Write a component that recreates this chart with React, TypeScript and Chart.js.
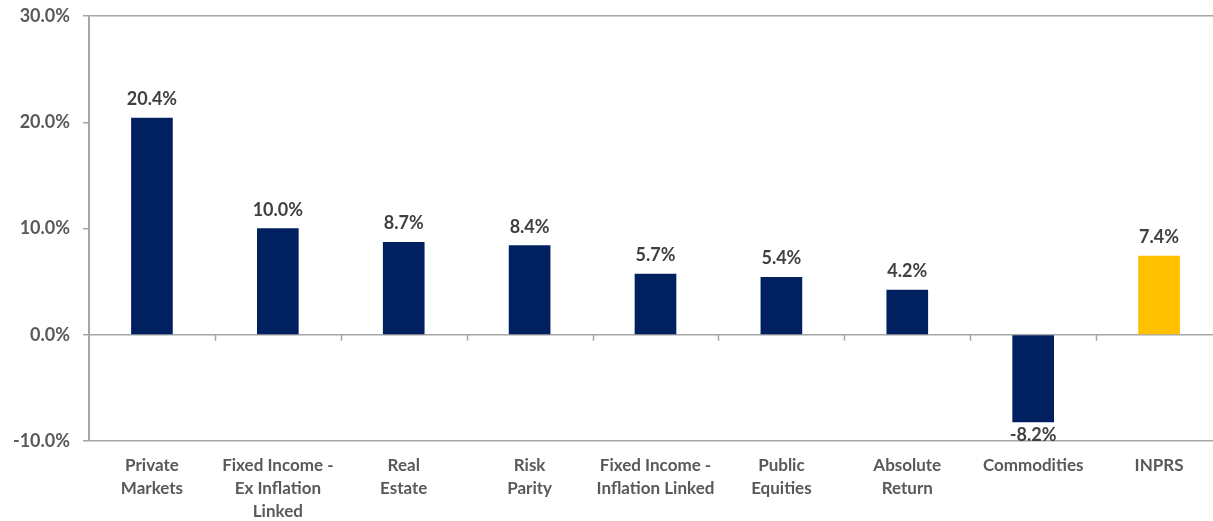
import React, { useEffect, useRef } from "react";
import { Chart, registerables } from "chart.js";

Chart.register(...registerables);

const categories: (string | string[])[] = [
  ["Private", "Markets"],
  ["Fixed Income -", "Ex Inflation", "Linked"],
  ["Real", "Estate"],
  ["Risk", "Parity"],
  ["Fixed Income -", "Inflation Linked"],
  ["Public", "Equities"],
  ["Absolute", "Return"],
  "Commodities",
  "INPRS",
];

const returns: number[] = [20.4, 10.0, 8.7, 8.4, 5.7, 5.4, 4.2, -8.2, 7.4];

const NAVY = "#002060";
const GOLD = "#FFC000";
const barColors: string[] = [NAVY, NAVY, NAVY, NAVY, NAVY, NAVY, NAVY, NAVY, GOLD];

const yMin = -10;
const yMax = 30;
const yStep = 10;

const AXIS_GRAY = "#A6A6A6";
const FONT = "Lato, 'Open Sans', sans-serif";

const valueLabels = {
  id: "valueLabels",
  afterDatasetsDraw(chart: any) {
    const ctx = chart.ctx;
    const meta = chart.getDatasetMeta(0);
    ctx.save();
    ctx.font = `bold 18px ${FONT}`;
    ctx.fillStyle = "#404040";
    ctx.textAlign = "center";
    ctx.textBaseline = "alphabetic";
    meta.data.forEach((bar: any, i: number) => {
      const v = returns[i];
      const txt = v.toFixed(1) + "%";
      if (v >= 0) {
        ctx.fillText(txt, bar.x, bar.y - 13);
      } else {
        ctx.fillText(txt, bar.x, bar.y + 19);
      }
    });
    ctx.restore();
  },
};

const categoryTicks = {
  id: "categoryTicks",
  afterDraw(chart: any) {
    const ctx = chart.ctx;
    const xs = chart.scales.x;
    const ys = chart.scales.y;
    const y0 = ys.getPixelForValue(0);
    const n = categories.length;
    const w = (xs.getPixelForTick(n - 1) - xs.getPixelForTick(0)) / (n - 1);
    ctx.save();
    ctx.strokeStyle = AXIS_GRAY;
    ctx.lineWidth = 1.5;
    for (let i = 1; i <= n; i++) {
      const x = Math.round(xs.getPixelForTick(0) - w / 2 + i * w) + 0.5;
      ctx.beginPath();
      ctx.moveTo(x, y0);
      ctx.lineTo(x, y0 + 6);
      ctx.stroke();
    }
    ctx.restore();
  },
};

export default function App() {
  const canvasRef = useRef<HTMLCanvasElement | null>(null);

  useEffect(() => {
    if (!canvasRef.current) return;
    const chart = new Chart(canvasRef.current, {
      type: "bar",
      data: {
        labels: categories,
        datasets: [
          {
            data: returns,
            backgroundColor: barColors,
            borderWidth: 0,
            barThickness: 41,
          },
        ],
      },
      options: {
        responsive: false,
        animation: false,
        layout: { padding: { top: 16, right: 0, left: 0, bottom: 0 } },
        plugins: {
          legend: { display: false },
          tooltip: { enabled: false },
        },
        scales: {
          x: {
            grid: { display: false, drawTicks: false },
            border: { display: false },
            ticks: {
              color: "#595959",
              font: { family: FONT, size: 17, weight: "bold", lineHeight: 1.35 },
              padding: 13,
              maxRotation: 0,
              autoSkip: false,
            },
            afterFit: (scale: any) => {
              scale.height = 80;
              scale.paddingLeft = 0;
              scale.paddingRight = 0;
            },
          },
          y: {
            min: yMin,
            max: yMax,
            ticks: {
              stepSize: yStep,
              color: "#595959",
              font: { family: FONT, size: 18, weight: "bold" },
              padding: 13,
              callback: (v: any) => Number(v).toFixed(1) + "%",
            },
            grid: {
              color: (c: any) => {
                const v = c.tick ? c.tick.value : null;
                return v === 30 || v === 0 || v === -10 ? AXIS_GRAY : "rgba(0,0,0,0)";
              },
              lineWidth: 1.5,
              drawTicks: true,
              tickLength: 6,
              tickColor: AXIS_GRAY,
            },
            border: { display: true, color: AXIS_GRAY, width: 2 },
            afterFit: (scale: any) => {
              scale.width = 89;
              scale.paddingTop = 0;
              scale.paddingBottom = 0;
            },
          },
        },
      },
      plugins: [valueLabels, categoryTicks],
    });
    return () => chart.destroy();
  }, []);

  return (
    <div
      style={{
        position: "fixed",
        left: 0,
        top: 0,
        width: 1213,
        height: 521,
        overflow: "hidden",
        background: "#fff",
      }}
    >
      <canvas ref={canvasRef} width={1222} height={521} style={{ display: "block" }} />
    </div>
  );
}
